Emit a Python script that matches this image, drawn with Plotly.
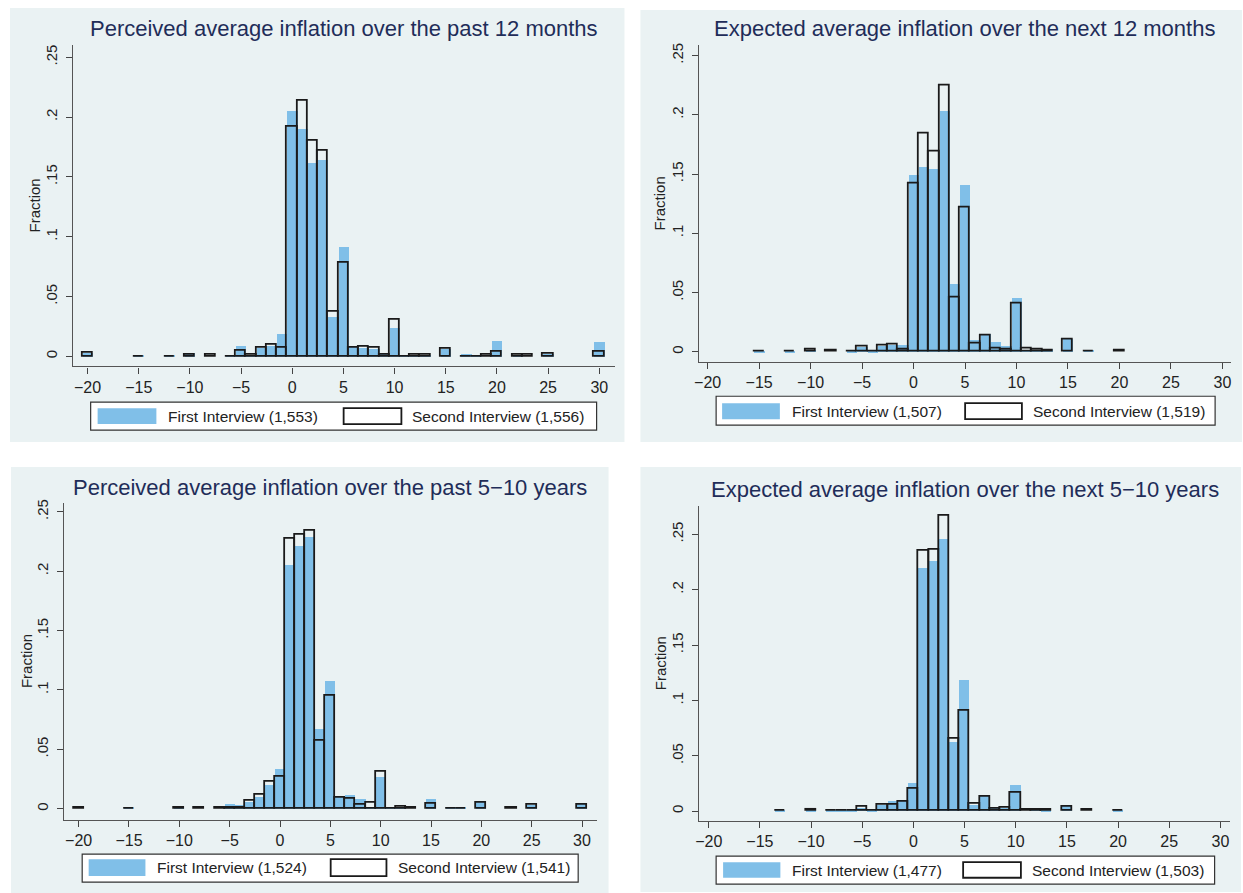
import plotly.graph_objects as go

W, H = 1243, 893

# ---------------- data (fraction of respondents per 1-point bin) ----------------
titles = [
    "Perceived average inflation over the past 12 months",
    "Expected average inflation over the next 12 months",
    "Perceived average inflation over the past 5\u221210 years",
    "Expected average inflation over the next 5\u221210 years",
]
first_labels = ["First Interview (1,553)", "First Interview (1,507)",
                "First Interview (1,524)", "First Interview (1,477)"]
second_labels = ["Second Interview (1,556)", "Second Interview (1,519)",
                 "Second Interview (1,541)", "Second Interview (1,503)"]

x_ticks = [-20, -15, -10, -5, 0, 5, 10, 15, 20, 25, 30]
y_ticks = [0, 0.05, 0.10, 0.15, 0.20, 0.25]
y_ticktext = ["0", ".05", ".1", ".15", ".2", ".25"]

# Panel 1: perceived, past 12 months
p1_bins = [-20, -15, -12, -10, -8, -6, -5, -4, -3, -2, -1, 0, 1, 2, 3, 4, 5, 6, 7, 8, 9, 10,
           11, 12, 13, 15, 17, 18, 19, 20, 22, 23, 25, 30]
p1_first = [0.003, 0.001, 0.001, 0.003, 0.0, 0.001, 0.009, 0.001, 0.007, 0.009, 0.019, 0.205,
            0.190, 0.162, 0.164, 0.033, 0.092, 0.009, 0.007, 0.006, 0.003, 0.024,
            0.001, 0.001, 0.001, 0.006, 0.002, 0.001, 0.0, 0.013, 0.001, 0.0, 0.002, 0.012]
p1_second = [0.003, 0.0, 0.0, 0.001, 0.001, 0.0, 0.005, 0.001, 0.007, 0.010, 0.007, 0.192,
             0.214, 0.180, 0.172, 0.037, 0.078, 0.007, 0.008, 0.007, 0.001, 0.031,
             0.0, 0.001, 0.001, 0.006, 0.0, 0.0, 0.001, 0.004, 0.001, 0.001, 0.002, 0.004]

# Panel 2: expected, next 12 months
p2_bins = [-15, -12, -10, -8, -6, -5, -4, -3, -2, -1, 0, 1, 2, 3, 4, 5, 6, 7, 8, 9, 10,
           11, 12, 13, 15, 17, 20]
p2_first = [0.001, 0.001, 0.002, 0.0, 0.001, 0.004, 0.001, 0.005, 0.006, 0.006, 0.150,
            0.156, 0.155, 0.204, 0.058, 0.141, 0.010, 0.015, 0.009, 0.005, 0.046,
            0.002, 0.002, 0.003, 0.011, 0.002, 0.0]
p2_second = [0.0, 0.0, 0.002, 0.001, 0.0, 0.004, 0.0, 0.005, 0.006, 0.002, 0.142,
             0.184, 0.169, 0.225, 0.046, 0.122, 0.007, 0.014, 0.003, 0.002, 0.041,
             0.003, 0.002, 0.001, 0.010, 0.0, 0.001]

# Panel 3: perceived, past 5-10 years
p3_bins = [-20, -15, -10, -8, -6, -5, -4, -3, -2, -1, 0, 1, 2, 3, 4, 5, 6, 7, 8, 9, 10,
           11, 12, 13, 15, 17, 18, 20, 23, 25, 30]
p3_first = [0.0, 0.001, 0.001, 0.0, 0.0, 0.004, 0.003, 0.006, 0.010, 0.020, 0.034,
            0.205, 0.221, 0.229, 0.067, 0.108, 0.011, 0.012, 0.008, 0.002, 0.027,
            0.002, 0.002, 0.0, 0.008, 0.001, 0.001, 0.007, 0.0, 0.003, 0.004]
p3_second = [0.001, 0.0, 0.001, 0.001, 0.001, 0.001, 0.001, 0.007, 0.012, 0.023, 0.027,
             0.227, 0.231, 0.234, 0.057, 0.095, 0.009, 0.008, 0.003, 0.005, 0.031,
             0.0, 0.002, 0.001, 0.004, 0.0, 0.0, 0.005, 0.001, 0.003, 0.003]

# Panel 4: expected, next 5-10 years
p4_bins = [-13, -10, -8, -7, -6, -5, -4, -3, -2, -1, 0, 1, 2, 3, 4, 5, 6, 7, 8, 9, 10,
           11, 12, 13, 15, 17, 20]
p4_first = [0.001, 0.001, 0.001, 0.001, 0.001, 0.003, 0.001, 0.006, 0.009, 0.009, 0.026,
            0.220, 0.226, 0.246, 0.063, 0.119, 0.006, 0.015, 0.004, 0.003, 0.024,
            0.0, 0.002, 0.001, 0.005, 0.0, 0.001]
p4_second = [0.0, 0.001, 0.0, 0.0, 0.0, 0.004, 0.0, 0.006, 0.006, 0.008, 0.020,
             0.235, 0.236, 0.267, 0.065, 0.091, 0.007, 0.013, 0.002, 0.003, 0.017,
             0.001, 0.001, 0.001, 0.004, 0.001, 0.0]

bins = [p1_bins, p2_bins, p3_bins, p4_bins]
firsts = [p1_first, p2_first, p3_first, p4_first]
seconds = [p1_second, p2_second, p3_second, p4_second]

# ---------------- layout geometry (pixels) ----------------
BLUE = "#80bfe8"
BG = "#eaf2f3"
OUT = "#1a1a1a"
TITLE_C = "#1f2d59"
FONT = "Liberation Sans"

# panel background boxes: x0, x1, y0, y1
panels = [(5, 622, 4, 440), (638, 1242, 6, 440), (6, 606, 465, 893), (638, 1241, 465, 892)]
# plot areas: left, right, top, bottom
plots = [(68, 612, 41, 364), (696.5, 1231, 40.7, 359.3), (59.3, 594, 501, 819.3), (697, 1230, 504, 820.7)]
xranges = [(-21.45, 31.49), (-20.87, 30.84), (-21.45, 31.45), (-20.93, 30.94)]
yranges = [(-0.0083, 0.2604), (-0.0084, 0.2593), (-0.0092, 0.2576), (-0.0090, 0.2758)]
title_y = [25, 25, 486, 488]
frac_x = [30, 657, 21, 658.5]
# legend: box (x0,x1,y0,y1), blue swatch (x0,x1), hollow swatch (x0,x1), text1 x, text2 x, swatch y (y0,y1), text y
legends = [
    ((86, 594, 400, 428), (93, 152), (340, 398), 162, 407, (406, 422), 414),
    ((714, 1215, 394, 423), (720, 778), (964, 1021), 788, 1030, (401, 417), 409),
    ((77.5, 575.5, 854, 882), (84, 141), (327, 383), 151, 393, (859, 876), 867),
    ((714, 1214.5, 856, 884), (721, 778.5), (962, 1020), 788, 1029, (862, 877.7), 870),
]


def px(x):
    return x / W


def py(y):
    return 1 - y / H


fig = go.Figure()
shapes = []
annotations = []

for i in range(4):
    n = "" if i == 0 else str(i + 1)
    xa, ya = "x" + n, "y" + n
    fig.add_trace(go.Bar(x=bins[i], y=firsts[i], width=1, xaxis=xa, yaxis=ya,
                         marker=dict(color=BLUE, line=dict(width=0)),
                         showlegend=False, name=first_labels[i]))
    fig.add_trace(go.Bar(x=bins[i], y=seconds[i], width=1, xaxis=xa, yaxis=ya,
                         marker=dict(color="rgba(0,0,0,0)", line=dict(color=OUT, width=1.8)),
                         showlegend=False, name=second_labels[i]))

    l, r, t, b = plots[i]
    fig.layout["xaxis" + n] = dict(
        domain=[px(l), px(r)], anchor=ya, range=list(xranges[i]),
        tickmode="array", tickvals=x_ticks, ticktext=[str(v).replace("-", "\u2212") for v in x_ticks],
        ticks="outside", ticklen=6, tickwidth=1.2, tickcolor="#444",
        showline=True, linecolor="#555", linewidth=1.3, showgrid=False, zeroline=False,
        tickfont=dict(family=FONT, size=16, color="#222"), fixedrange=True)
    fig.layout["yaxis" + n] = dict(
        domain=[py(b), py(t)], anchor=xa, range=list(yranges[i]),
        tickmode="array", tickvals=y_ticks, ticktext=y_ticktext, tickangle=-90,
        ticks="outside", ticklen=6, tickwidth=1.2, tickcolor="#444",
        showline=True, linecolor="#555", linewidth=1.3, ticklabelstandoff=3,
        showgrid=True, gridcolor=BG, gridwidth=1.2, zeroline=False,
        tickfont=dict(family=FONT, size=15, color="#222"), fixedrange=True)

    # panel background
    x0, x1, y0, y1 = panels[i]
    shapes.append(dict(type="rect", xref="paper", yref="paper", x0=px(x0), x1=px(x1),
                       y0=py(y1), y1=py(y0), fillcolor=BG, line=dict(width=0), layer="below"))
    # title
    annotations.append(dict(text=titles[i], xref="paper", yref="paper",
                            x=px((l + r) / 2), y=py(title_y[i]), xanchor="center", yanchor="middle",
                            showarrow=False, font=dict(family=FONT, size=22, color=TITLE_C)))
    # y title
    annotations.append(dict(text="Fraction", xref="paper", yref="paper", textangle=-90,
                            x=px(frac_x[i]), y=py((t + b) / 2), xanchor="center", yanchor="middle",
                            showarrow=False, font=dict(family=FONT, size=15, color="#222")))
    # legend
    box, sw1, sw2, tx1, tx2, swy, ty = legends[i]
    shapes.append(dict(type="rect", xref="paper", yref="paper", x0=px(box[0]), x1=px(box[1]),
                       y0=py(box[3]), y1=py(box[2]), fillcolor="white",
                       line=dict(color="#333", width=1.2)))
    shapes.append(dict(type="rect", xref="paper", yref="paper", x0=px(sw1[0]), x1=px(sw1[1]),
                       y0=py(swy[1]), y1=py(swy[0]), fillcolor=BLUE, line=dict(width=0)))
    shapes.append(dict(type="rect", xref="paper", yref="paper", x0=px(sw2[0]), x1=px(sw2[1]),
                       y0=py(swy[1]), y1=py(swy[0]), fillcolor="white",
                       line=dict(color=OUT, width=1.8)))
    annotations.append(dict(text=first_labels[i], xref="paper", yref="paper",
                            x=px(tx1), y=py(ty), xanchor="left", yanchor="middle",
                            showarrow=False, font=dict(family=FONT, size=15.5, color="#222")))
    annotations.append(dict(text=second_labels[i], xref="paper", yref="paper",
                            x=px(tx2), y=py(ty), xanchor="left", yanchor="middle",
                            showarrow=False, font=dict(family=FONT, size=15.5, color="#222")))

fig.update_layout(
    width=W, height=H, margin=dict(l=0, r=0, t=0, b=0),
    paper_bgcolor="white", plot_bgcolor="white",
    barmode="overlay", bargap=0, showlegend=False,
    shapes=shapes, annotations=annotations,
    font=dict(family=FONT),
)

fig.write_html("out.html", config={"displayModeBar": False},
               post_script="document.body.style.margin='0';document.body.style.overflow='hidden';")
